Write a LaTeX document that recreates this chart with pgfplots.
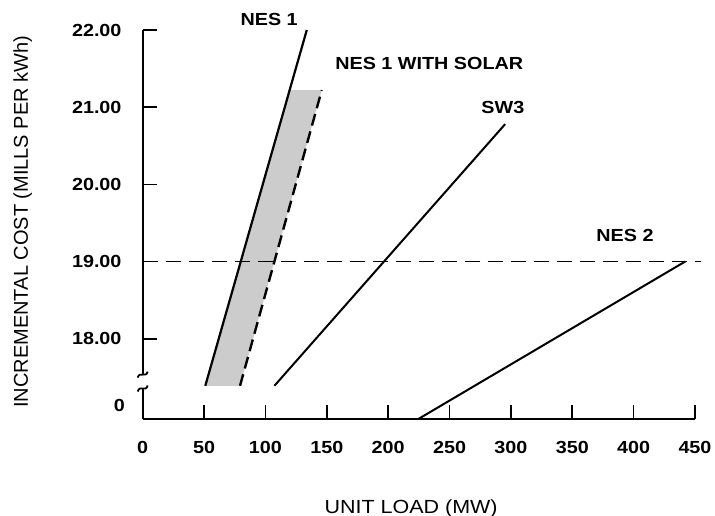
\documentclass[border=0pt]{standalone}
\usepackage{fontspec}
\setmainfont{Liberation Sans}[FakeStretch=1.13]
\newfontfamily\ylabfont{Liberation Sans}
\usepackage{pgfplots}
\pgfplotsset{compat=1.18}
\begin{document}
\begin{tikzpicture}
\begin{axis}[
  name=ax,
  scale only axis, width=552.3pt, height=389pt,
  xmin=0, xmax=450, ymin=16.96, ymax=22,
  axis lines=left, axis line style={-, line width=2.1pt},
  xtick={0,50,...,450}, xticklabels={0,50,100,150,200,250,300,350,400,450},
  ytick={18,19,20,21,22}, yticklabels={18.00,19.00,20.00,21.00,22.00},
  tick align=inside, major tick length=14pt, tick style={line width=1.6pt, black},
  ticklabel style={font=\fontsize{17.5}{19}\selectfont\bfseries},
  xticklabel style={inner sep=0pt, yshift=-22pt},
  yticklabel style={inner sep=0pt, xshift=-21pt},
  clip=false,
  xlabel={UNIT LOAD (MW)},
  xlabel style={at={(axis description cs:0.486,-0.2292)}, anchor=center, font=\fontsize{19}{21}\selectfont},
  ylabel={INCREMENTAL COST (MILLS PER kWh)},
  ylabel style={at={(axis description cs:-0.2173,0.507)}, anchor=center, font=\ylabfont\fontsize{20}{22}\selectfont},
]
% shaded band between NES 1 and NES 1 with solar
\addplot[draw=none, fill=black!20] coordinates {(51,17.39) (119.8,21.22) (145.9,21.22) (79.3,17.39)} -- cycle;
% NES 1
\addplot[black, line width=2.2pt] coordinates {(51,17.39) (133.7,22.0)};
% NES 1 with solar
\addplot[black, line width=2.4pt, dash pattern=on 12pt off 6pt] coordinates {(79.3,17.39) (145.9,21.22)};
% SW3
\addplot[black, line width=2pt] coordinates {(107.3,17.39) (295.3,20.78)};
% NES 2
\addplot[black, line width=2pt] coordinates {(224.6,16.96) (442,19.0)};
% 19.00 reference
\addplot[black, line width=1.9pt, dash pattern=on 15pt off 8pt] coordinates {(0,19) (455,19)};

\node[font=\fontsize{17.5}{19}\selectfont\bfseries] at (axis cs:103,22.14) {NES 1};
\node[font=\fontsize{17.5}{19}\selectfont\bfseries] at (axis cs:233.5,21.57) {NES 1 WITH SOLAR};
\node[font=\fontsize{17.5}{19}\selectfont\bfseries] at (axis cs:293.5,21.0) {SW3};
\node[font=\fontsize{17.5}{19}\selectfont\bfseries] at (axis cs:393,19.34) {NES 2};
\node[font=\fontsize{17.5}{19}\selectfont\bfseries, anchor=east, inner sep=0pt, xshift=-17.7pt] at (axis cs:0,17.13) {0};
\coordinate (brkA) at (axis cs:0,17.535);
\coordinate (brkB) at (axis cs:0,17.355);
\end{axis}
\fill[white] ([xshift=-4pt]brkB) rectangle ([xshift=4pt]brkA);
\draw[line width=1.8pt] ([xshift=-5pt,yshift=-3pt]brkA) .. controls +(2pt,7pt) and +(-2pt,-7pt) .. ([xshift=5pt,yshift=3pt]brkA);
\draw[line width=1.8pt] ([xshift=-5pt,yshift=-3pt]brkB) .. controls +(2pt,7pt) and +(-2pt,-7pt) .. ([xshift=5pt,yshift=3pt]brkB);
\pgfresetboundingbox
\useasboundingbox ([shift={(-142.7pt,-97pt)}]ax.south west) rectangle ([shift={(572.3pt,419pt)}]ax.south west);
\end{tikzpicture}
\end{document}
